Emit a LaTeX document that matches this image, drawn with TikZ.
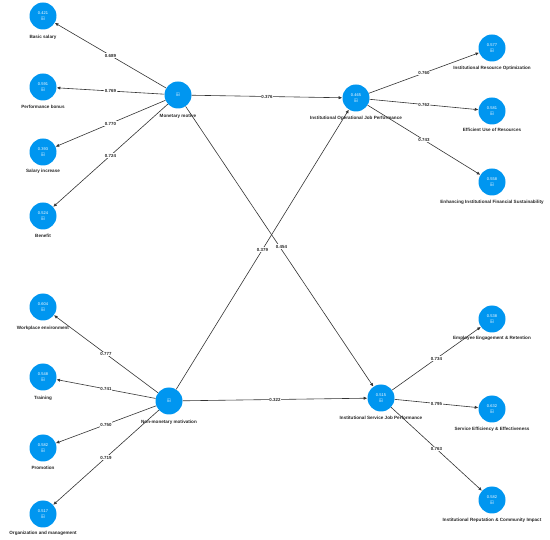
\documentclass[tikz,border=0pt]{standalone}
\usepackage{amssymb}
\usepackage{fontspec}
\setmainfont{Liberation Sans}
\usetikzlibrary{arrows.meta}
\definecolor{plsblue}{RGB}{0,150,240}

\begin{document}
\begin{tikzpicture}[x=1pt,y=-1pt,
        lv/.style={circle,fill=plsblue,minimum size=27pt,inner sep=0pt,text=white,
                   font=\fontsize{4}{5}\selectfont,align=center},
        nm/.style={font=\fontsize{4.6}{5}\selectfont\bfseries,text=black!85,inner sep=1pt},
        ld/.style={font=\fontsize{4.4}{5}\selectfont\bfseries,fill=white,inner sep=0.6pt,text=black!85},
        pth/.style={-{Latex[length=3.6pt,width=3.2pt]},black!80,line width=0.6pt}]
        \useasboundingbox (0,0) rectangle (550,540);
        % constructs
        \draw (178,95)  node[lv] (mm)   {$\boxplus$};
        \draw (169,401) node[lv] (nmm)  {$\boxplus$};
        \draw (356,98)  node[lv] (iojp) {0.465\\[1pt]$\boxplus$};
        \draw (381,398) node[lv] (isjp) {0.515\\[1pt]$\boxplus$};
        % indicators
        \draw (43,16)  node[lv] (bs)  {0.421\\[1pt]$\boxplus$};
        \draw (43,87)  node[lv] (pb)  {0.591\\[1pt]$\boxplus$};
        \draw (43,152) node[lv] (si)  {0.393\\[1pt]$\boxplus$};
        \draw (43,216) node[lv] (be)  {0.524\\[1pt]$\boxplus$};
        \draw (43,307) node[lv] (we)  {0.604\\[1pt]$\boxplus$};
        \draw (43,377) node[lv] (tr)  {0.548\\[1pt]$\boxplus$};
        \draw (43,448) node[lv] (pr)  {0.582\\[1pt]$\boxplus$};
        \draw (43,514) node[lv] (om)  {0.517\\[1pt]$\boxplus$};
        \draw (492,48)  node[lv] (iro)  {0.577\\[1pt]$\boxplus$};
        \draw (492,111) node[lv] (eur)  {0.581\\[1pt]$\boxplus$};
        \draw (492,182) node[lv] (eifs) {0.558\\[1pt]$\boxplus$};
        \draw (492,319) node[lv] (eer)  {0.538\\[1pt]$\boxplus$};
        \draw (492,409) node[lv] (see)  {0.632\\[1pt]$\boxplus$};
        \draw (492,500) node[lv] (irci) {0.582\\[1pt]$\boxplus$};
        % names
        \node[nm] (mm-t)   at (178,116) {Monetary motive};
        \node[nm] (nmm-t)  at (169,422) {Non-monetary motivation};
        \node[nm] (iojp-t) at (356,118) {Institutional Operational Job Performance};
        \node[nm] (isjp-t) at (381,418) {Institutional Service Job Performance};
        \node[nm] (bs-t)   at (43,37)   {Basic salary};
        \node[nm] (pb-t)   at (43,107)  {Performance bonus};
        \node[nm] (si-t)   at (43,171)  {Salary increase};
        \node[nm] (be-t)   at (43,236)  {Benefit};
        \node[nm] (we-t)   at (43,328)  {Workplace environment};
        \node[nm] (tr-t)   at (43,398)  {Training};
        \node[nm] (pr-t)   at (43,468)  {Promotion};
        \node[nm] (om-t)   at (43,533)  {Organization and management};
        \node[nm] (iro-t)  at (492,68)  {Institutional Resource Optimization};
        \node[nm] (eur-t)  at (492,130) {Efficient Use of Resources};
        \node[nm] (eifs-t) at (492,202) {Enhancing Institutional Financial Sustainability};
        \node[nm] (eer-t)  at (492,338) {Employee Engagement \& Retention};
        \node[nm] (see-t)  at (492,429) {Service Efficiency \& Effectiveness};
        \node[nm] (irci-t) at (492,520) {Institutional Reputation \& Community Impact};
        % paths
        \draw[pth] (mm) -- (bs) node [midway, ld] {0.689};
        \draw[pth] (mm) -- (pb) node [midway, ld] {0.769};
        \draw[pth] (mm) -- (si) node [midway, ld] {0.770};
        \draw[pth] (mm) -- (be) node [midway, ld] {0.724};
        \draw[pth] (nmm) -- (we) node [midway, ld] {0.777};
        \draw[pth] (nmm) -- (tr) node [midway, ld] {0.741};
        \draw[pth] (nmm) -- (pr) node [midway, ld] {0.750};
        \draw[pth] (nmm) -- (om) node [midway, ld] {0.719};
        \draw[pth] (mm) -- (iojp) node [midway, ld] {0.376};
        \draw[pth] (mm) -- (isjp) node [midway, ld, xshift=2pt] {0.454};
        \draw[pth] (nmm) -- (iojp) node [midway, ld] {0.379};
        \draw[pth] (nmm) -- (isjp) node [midway, ld] {0.322};
        \draw[pth] (iojp) -- (iro) node [midway, ld] {0.760};
        \draw[pth] (iojp) -- (eur) node [midway, ld] {0.762};
        \draw[pth] (iojp) -- (eifs) node [midway, ld] {0.743};
        \draw[pth] (isjp) -- (eer) node [midway, ld] {0.734};
        \draw[pth] (isjp) -- (see) node [midway, ld] {0.795};
        \draw[pth] (isjp) -- (irci) node [midway, ld] {0.763};
\end{tikzpicture}
\end{document}
